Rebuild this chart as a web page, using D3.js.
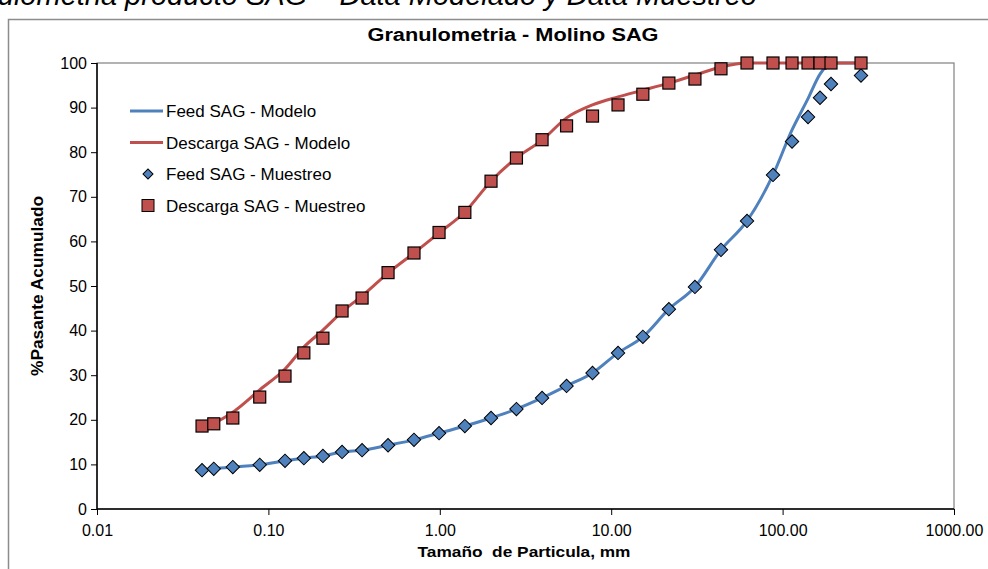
<!DOCTYPE html>
<html>
<head>
<meta charset="utf-8">
<script src="https://cdn.jsdelivr.net/npm/d3@7"></script>
<style>
  body { margin: 0; background: #fff; }
  svg { display: block; font-family: Arial, "Liberation Sans", sans-serif; }
</style>
</head>
<body>
<svg id="chart"></svg>
<script>
(() => {
// sieve sizes, mm
let sizes = [0.041, 0.048, 0.062, 0.089, 0.125, 0.161, 0.208, 0.269, 0.352, 0.499,
             0.707, 0.99, 1.40, 1.99, 2.80, 3.95, 5.49, 7.78, 10.96, 15.3,
             21.7, 30.8, 43.7, 62.0, 87.9, 113.5, 140.7, 165.3, 191.6, 286.7];

let feedModelo = [8.7, 9.0, 9.4, 9.9, 10.8, 11.4, 11.9, 12.8, 13.2, 14.3,
                  15.5, 17.0, 18.6, 20.4, 22.4, 24.9, 27.6, 30.5, 35.0, 38.6,
                  44.8, 49.8, 58.1, 64.6, 74.9, 85.0, 92.0, 97.5, 100, 100];
let descargaModelo = [18.6, 19.3, 21.7, 26.7, 31.4, 36.3, 40.1, 44.2, 47.8, 52.9,
                      57.4, 61.9, 66.6, 73.5, 78.7, 82.7, 87.7, 90.6, 92.4, 93.9,
                      95.5, 97.3, 99.1, 100, 100, 100, 100, 100, 100, 100];
let feedMuestreo = [8.7, 9.0, 9.4, 9.9, 10.8, 11.4, 11.9, 12.8, 13.2, 14.3,
                    15.5, 17.0, 18.6, 20.4, 22.4, 24.9, 27.6, 30.5, 35.0, 38.6,
                    44.8, 49.8, 58.1, 64.6, 74.9, 82.4, 87.9, 92.2, 95.3, 97.2];
let descargaMuestreo = [18.6, 19.1, 20.4, 25.1, 29.8, 35.0, 38.3, 44.4, 47.3, 53.0,
                        57.4, 62.0, 66.5, 73.5, 78.7, 82.8, 85.9, 88.1, 90.6, 93.0,
                        95.5, 96.4, 98.7, 100, 100, 100, 100, 100, 100, 100];

let xTicks = [0.01, 0.1, 1, 10, 100, 1000];
let xTickLabels = ['0.01', '0.10', '1.00', '10.00', '100.00', '1000.00'];
let yTicks = [0, 10, 20, 30, 40, 50, 60, 70, 80, 90, 100];

let legendNames = ['Feed SAG - Modelo', 'Descarga SAG - Modelo', 'Feed SAG - Muestreo', 'Descarga SAG - Muestreo'];

let blue = '#4F81BD',
    red = '#C0504D';

let width = 988,
    height = 569,
    left = 97,
    right = 954,
    top = 63,
    bottom = 509;

let svg = d3.select('#chart')
    .attr('width', width)
    .attr('height', height);

// outer chart frame (cut by window)
svg.append('rect')
    .attr('x', 8.5).attr('y', 19.5)
    .attr('width', 1100).attr('height', 700)
    .attr('fill', '#fff')
    .attr('stroke', '#8c8c8c')
    .attr('stroke-width', 1.5);

// figure caption above the frame, cut at the top like the source
svg.append('text')
    .attr('x', 757).attr('y', 5)
    .attr('text-anchor', 'end')
    .attr('font-size', 29)
    .attr('font-style', 'italic')
    .text('Granulometria producto SAG – Data Modelado y Data Muestreo');

let x = d3.scaleLog().domain([0.01, 1000]).range([left, right]);
let y = d3.scaleLinear().domain([0, 100]).range([bottom, top]);

// plot area border
svg.append('rect')
    .attr('x', left).attr('y', top)
    .attr('width', right - left).attr('height', bottom - top)
    .attr('fill', 'none')
    .attr('stroke', '#808080')
    .attr('stroke-width', 1.2);

let yAxis = d3.axisLeft(y).tickValues(yTicks).tickSize(6).tickPadding(4);
let gy = svg.append('g')
    .attr('transform', `translate(${left},0)`)
    .call(yAxis);

let xAxis = d3.axisBottom(x).tickValues(xTicks)
    .tickFormat((d, i) => xTickLabels[i])
    .tickSize(6).tickPadding(10);
let gx = svg.append('g')
    .attr('transform', `translate(0,${bottom})`)
    .call(xAxis);

[gx, gy].forEach(g => {
  g.select('.domain').attr('stroke', '#000').attr('stroke-width', 1.5);
  g.selectAll('.tick line').attr('stroke', '#000');
  g.selectAll('.tick text').attr('font-size', 16).attr('fill', '#000')
    .attr('font-family', 'Arial, "Liberation Sans", sans-serif');
});
gy.select('.domain').attr('d', `M0,${top}V${bottom}`);
gx.select('.domain').attr('d', `M${left},0H${right}`);

// titles
svg.append('text')
    .attr('x', 513).attr('y', 41)
    .attr('text-anchor', 'middle')
    .attr('font-size', 18)
    .attr('font-weight', 'bold')
    .attr('textLength', 291)
    .attr('lengthAdjust', 'spacingAndGlyphs')
    .text('Granulometria - Molino SAG');

svg.append('text')
    .attr('x', 524).attr('y', 557)
    .attr('text-anchor', 'middle')
    .attr('font-size', 15)
    .attr('font-weight', 'bold')
    .attr('xml:space', 'preserve')
    .attr('textLength', 213)
    .attr('lengthAdjust', 'spacingAndGlyphs')
    .text('Tamaño  de Particula, mm');

svg.append('text')
    .attr('transform', `translate(43,${(top + bottom) / 2}) rotate(-90)`)
    .attr('text-anchor', 'middle')
    .attr('font-size', 16)
    .attr('font-weight', 'bold')
    .attr('textLength', 180)
    .attr('lengthAdjust', 'spacingAndGlyphs')
    .text('%Pasante Acumulado');

// model lines
let line = d3.line()
    .x(d => x(d[0]))
    .y(d => y(d[1]))
    .curve(d3.curveMonotoneX);

[[feedModelo, blue], [descargaModelo, red]].forEach(([vals, col]) => {
  svg.append('path')
    .datum(sizes.map((s, i) => [s, vals[i]]))
    .attr('d', line)
    .attr('fill', 'none')
    .attr('stroke', col)
    .attr('stroke-width', 3);
});

// sample markers
let diamond = d3.symbol().type(d3.symbolSquare).size(90);
svg.append('g').selectAll('path')
    .data(sizes.map((s, i) => [s, feedMuestreo[i]]))
    .enter()
    .append('path')
    .attr('d', diamond)
    .attr('transform', d => `translate(${x(d[0])},${y(d[1])}) rotate(45)`)
    .attr('fill', blue)
    .attr('stroke', '#000')
    .attr('stroke-width', 1);

let sq = 12;
svg.append('g').selectAll('rect')
    .data(sizes.map((s, i) => [s, descargaMuestreo[i]]))
    .enter()
    .append('rect')
    .attr('x', d => x(d[0]) - sq / 2)
    .attr('y', d => y(d[1]) - sq / 2)
    .attr('width', sq)
    .attr('height', sq)
    .attr('fill', red)
    .attr('stroke', '#000')
    .attr('stroke-width', 1.2);

// legend
let legend = svg.append('g').attr('transform', 'translate(130,111)');
let rowGap = 31.5;
legendNames.forEach((name, i) => {
  let row = legend.append('g').attr('transform', `translate(0,${i * rowGap})`);
  if (i < 2) {
    row.append('line')
      .attr('x1', 0).attr('x2', 33).attr('y1', 0).attr('y2', 0)
      .attr('stroke', i == 0 ? blue : red)
      .attr('stroke-width', 3);
  } else if (i == 2) {
    row.append('path')
      .attr('d', d3.symbol().type(d3.symbolSquare).size(50))
      .attr('transform', 'translate(18,0) rotate(45)')
      .attr('fill', blue).attr('stroke', '#000');
  } else {
    row.append('rect')
      .attr('x', 12).attr('y', -6).attr('width', 12).attr('height', 12)
      .attr('fill', red).attr('stroke', '#000');
  }
  row.append('text')
    .attr('x', 36).attr('y', 6)
    .attr('font-size', 17)
    .text(name);
});
})();
</script>
</body>
</html>
